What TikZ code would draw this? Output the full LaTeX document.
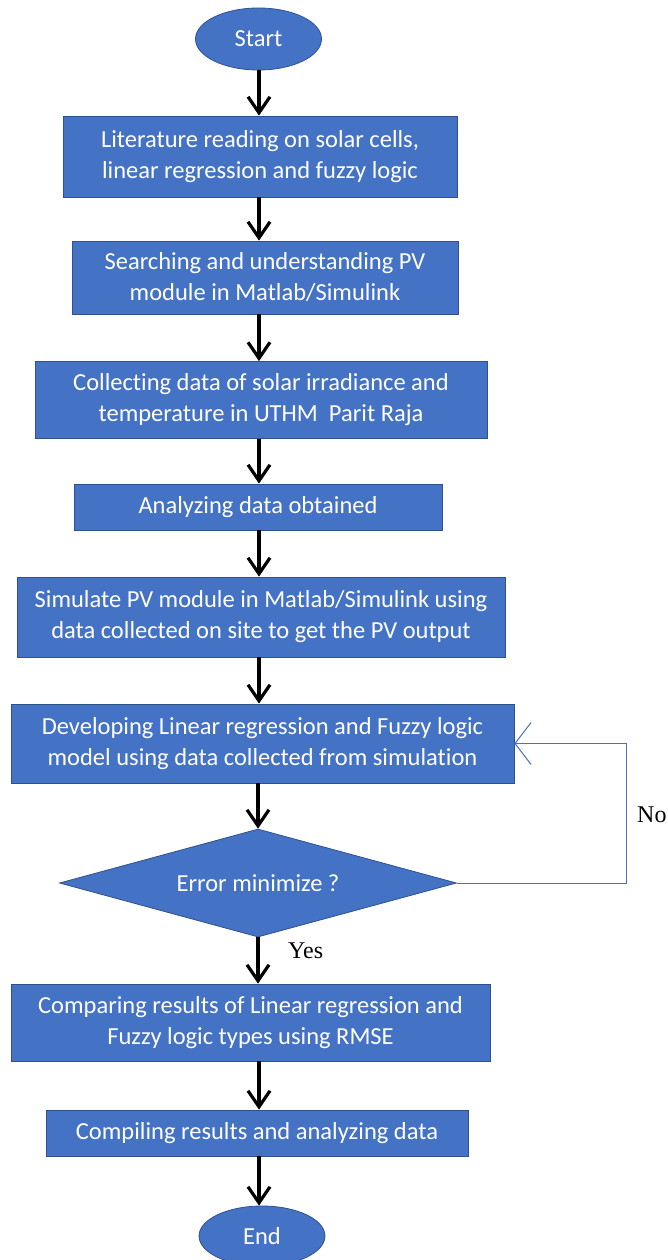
\documentclass[tikz,border=0pt]{standalone}
\usepackage{fontspec}
\setmainfont{Carlito}[Ligatures={NoCommon}]
\newfontfamily\timesf{Liberation Serif}
\usetikzlibrary{shapes.geometric,arrows.meta}
\definecolor{boxblue}{HTML}{4472C4}
\definecolor{boxedge}{HTML}{2F528F}
\begin{document}
\begin{tikzpicture}[x=1pt,y=-1pt,
  proc/.style={rectangle, draw=boxedge, line width=0.8pt, fill=boxblue, text=white,
    font=\fontsize{24.5}{31}\selectfont, align=center, inner sep=0pt},
  term/.style={ellipse, draw=boxedge, line width=0.8pt, fill=boxblue, text=white,
    font=\fontsize{24.5}{31}\selectfont, inner sep=0pt, minimum width=126pt, minimum height=62pt},
  decis/.style={diamond, draw=boxedge, line width=0.8pt, fill=boxblue, text=white,
    font=\fontsize{24.5}{31}\selectfont, inner sep=0pt, aspect=3.7},
  flow/.style={line width=3.2pt, black, -{Straight Barb[length=16pt,width=22pt,line width=3.2pt]}},
  fb/.style={draw=boxblue, line width=1pt, -{Straight Barb[length=16pt,width=42pt,line width=1pt]}},
  lab/.style={font=\timesf\fontsize{24}{28}\selectfont, text=black, inner sep=0pt}]
\useasboundingbox (0,0) rectangle (667,1260);
\clip (0,0) rectangle (667,1260);
\fill[white] (0,0) rectangle (667,1260);

\coordinate (ax) at (259,0);
\coordinate (loop) at (626,0);

\node[term] (start) at (258.5,39) {Start};
\node[proc, minimum width=394pt, minimum height=81pt] (b1) at (260,156.5)
  {Literature reading on solar cells,\\linear regression and fuzzy logic};
\node[proc, minimum width=386pt, minimum height=73pt] (b2) at (265,277.5)
  {Searching and understanding PV\\module in Matlab/Simulink};
\node[proc, minimum width=452pt, minimum height=77pt] (b3) at (261,400)
  {Collecting data of solar irradiance and\\temperature in UTHM\ \ Parit Raja};
\node[proc, minimum width=368pt, minimum height=46pt] (b4) at (258,507)
  {Analyzing data obtained};
\node[proc, minimum width=488pt, minimum height=80pt] (b5) at (261,617)
  {Simulate PV module in Matlab/Simulink using\\data collected on site to get the PV output};
\node[proc, minimum width=503pt, minimum height=79pt] (b6) at (262.5,743.5)
  {Developing Linear regression and Fuzzy logic\\model using data collected from simulation};
\node[decis, minimum width=397pt, minimum height=108pt] (dia) at (258,883)
  {Error minimize ?};
\node[proc, minimum width=479pt, minimum height=77pt] (b7) at (250.5,1022.5)
  {Comparing results of Linear regression and\\Fuzzy logic types using RMSE};
\node[proc, minimum width=422pt, minimum height=46pt] (b8) at (257,1133)
  {Compiling results and analyzing data};
\node[term, minimum height=60pt] (end) at (262,1236) {End};

\draw[flow] (start.south -| ax) -- (b1.north -| ax);
\draw[flow] (b1.south -| ax) -- (b2.north -| ax);
\draw[flow] (b2.south -| ax) -- (b3.north -| ax);
\draw[flow] (b3.south -| ax) -- (b4.north -| ax);
\draw[flow] (b4.south -| ax) -- (b5.north -| ax);
\draw[flow] (b5.south -| ax) -- (b6.north -| ax);
\draw[flow] (b6.south -| dia.north) -- (dia.north);
\draw[flow] (dia.south) -- (b7.north -| dia.south);
\draw[flow] (b7.south -| ax) -- (b8.north -| ax);
\draw[flow] (b8.south -| ax) -- (end.north -| ax);

\draw[fb] (dia.east) -- (dia.east -| loop) |- (b6.east);

\node[lab, anchor=base west] (yes) at (288,958) {Yes};
\node[lab, anchor=base west] (no) at (637,822) {No};
\end{tikzpicture}
\end{document}
